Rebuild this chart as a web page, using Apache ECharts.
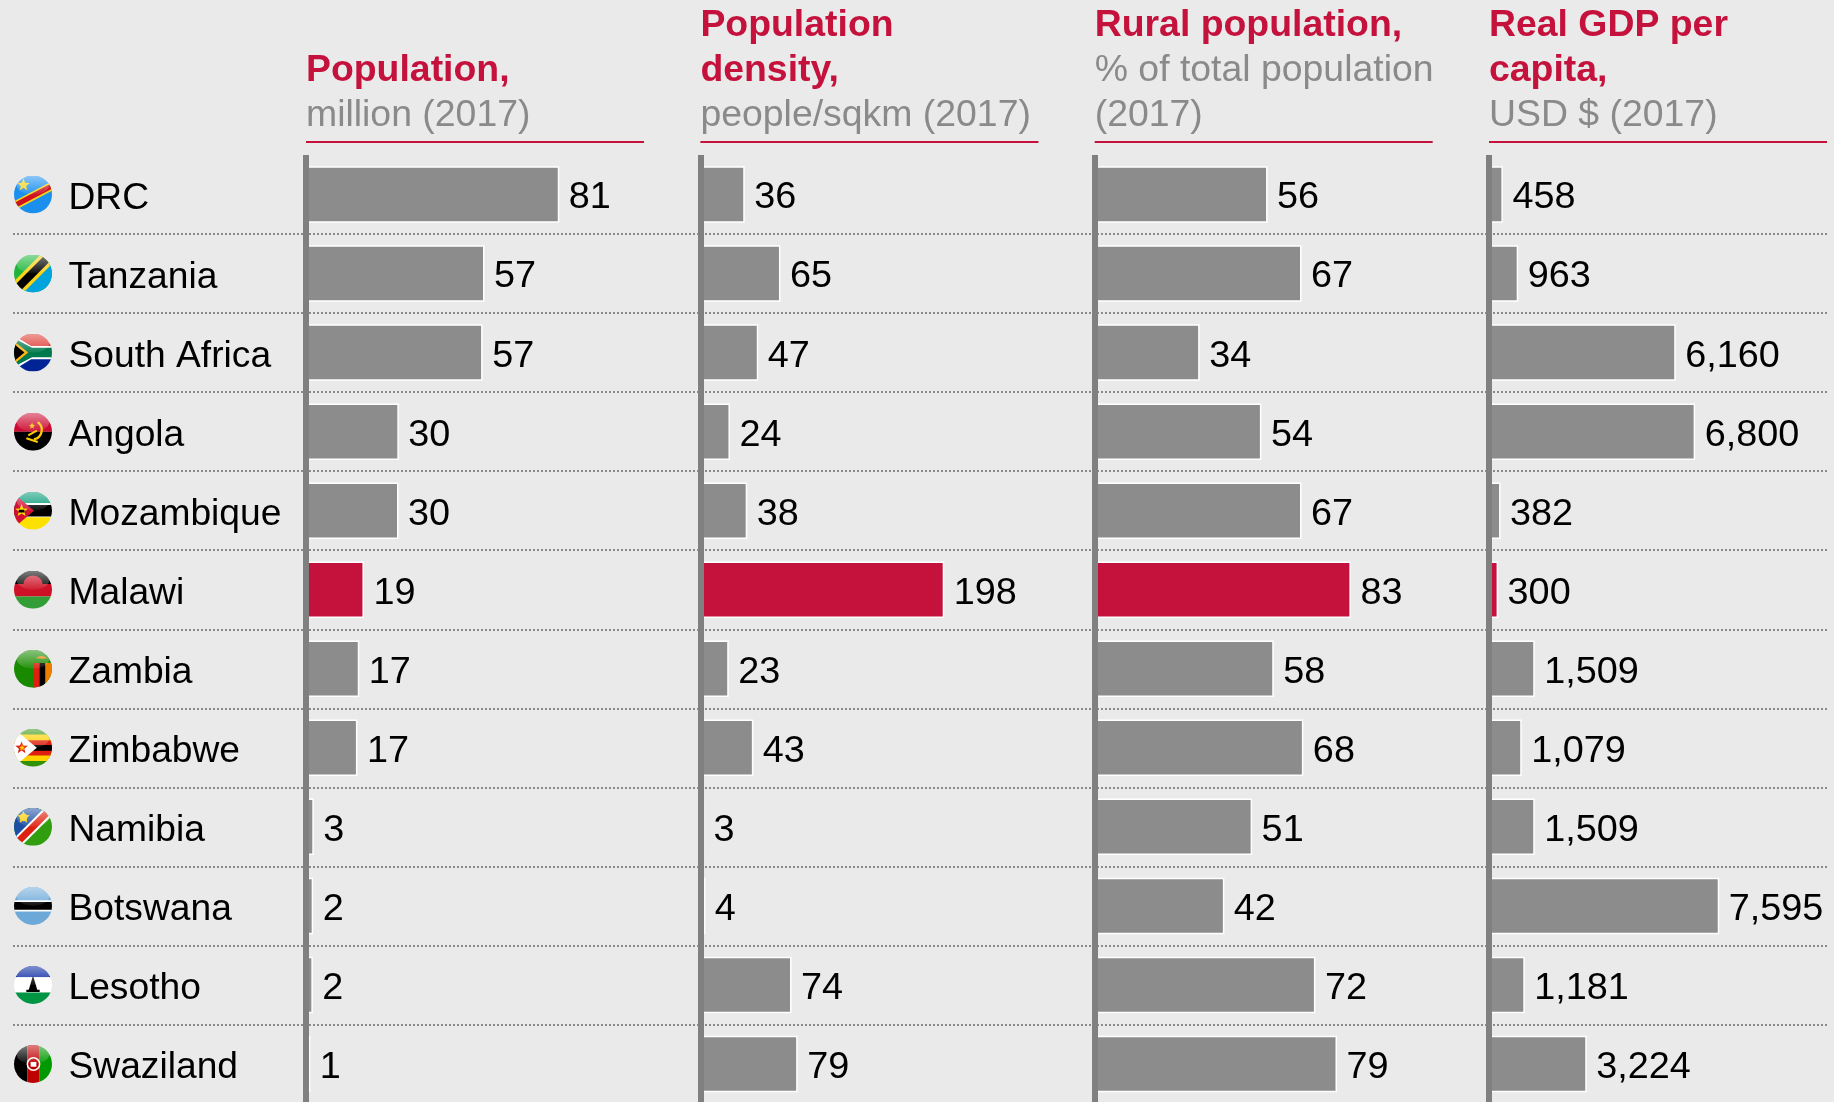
<!DOCTYPE html>
<html>
<head>
<meta charset="utf-8">
<title>Malawi and its neighbours</title>
<script src="https://cdn.jsdelivr.net/npm/echarts@6/dist/echarts.min.js"></script>
<style>
  html, body { margin: 0; padding: 0; background: #eaeaea; overflow: hidden; height: 1102px; }
  /* taller than the window on purpose: the last row runs a little past the bottom edge */
  #chart { width: 1834px; height: 1110px; }
</style>
</head>
<body>
<div id="chart"></div>
<script>
var countries = ['DRC', 'Tanzania', 'South Africa', 'Angola', 'Mozambique', 'Malawi', 'Zambia', 'Zimbabwe', 'Namibia', 'Botswana', 'Lesotho', 'Swaziland'];
var highlight = 'Malawi';

// population and rural keep a decimal where the bar length shows the printed label is rounded
var population = [81.3, 57.3, 56.7, 29.8, 29.7, 18.6, 17.1, 16.5, 2.5, 2.3, 2.2, 1.4];
var density = [36, 65, 47, 24, 38, 198, 23, 43, 3, 4, 74, 79];
var rural = [56, 67, 34, 54, 67, 83, 58, 67.6, 51, 42, 71.5, 78.5];
var gdp = [458, 963, 6160, 6800, 382, 300, 1509, 1079, 1509, 7595, 1181, 3224];

var populationHead = ['Population,'];
var populationSub = ['million (2017)'];
var densityHead = ['Population', 'density,'];
var densitySub = ['people/sqkm (2017)'];
var ruralHead = ['Rural population,'];
var ruralSub = ['% of total population', '(2017)'];
var gdpHead = ['Real GDP per', 'capita,'];
var gdpSub = ['USD $ (2017)'];

var FONT = '"Liberation Sans", Arial, sans-serif';
var CRIMSON = '#c4123c';
var BAR_GRAY = '#8c8c8c';
var AXIS_GRAY = '#808080';

var CHART_HEIGHT = 1110;
var GRID_TOP = 155;
var GRID_HEIGHT = 948.5;

function star(cx, cy, r, fill) {
  var pts = [];
  for (var i = 0; i < 10; i++) {
    var a = -Math.PI / 2 + i * Math.PI / 5;
    var rr = i % 2 ? r * 0.42 : r;
    pts.push((cx + rr * Math.cos(a)).toFixed(2) + ',' + (cy + rr * Math.sin(a)).toFixed(2));
  }
  return '<polygon points="' + pts.join(' ') + '" fill="' + fill + '"/>';
}

function rect(x, y, w, h, fill) {
  return '<rect x="' + x + '" y="' + y + '" width="' + w + '" height="' + h + '" fill="' + fill + '"/>';
}

function poly(points, fill) {
  return '<polygon points="' + points + '" fill="' + fill + '"/>';
}

var flagArt = [
  // DRC
  rect(0, 0, 40, 40, '#1b8fee') + poly('0,27 40,6 40,16 0,37', '#f7d618') + poly('0,29 40,8 40,14 0,35', '#ce1021') + star(10, 10, 7, '#f7d618'),
  // Tanzania
  rect(0, 0, 40, 40, '#1eb53a') + poly('40,4 40,40 0,40', '#00a3dd') + poly('0,28 28,0 40,0 40,10 10,40 0,40', '#fcd116') + poly('0,33 33,0 40,0 40,5 5,40 0,40', '#000'),
  // South Africa
  rect(0, 0, 40, 20, '#de3831') + rect(0, 20, 40, 20, '#002395') + poly('0,2 18,13 40,13 40,27 18,27 0,38', '#fff') + poly('0,5 19,15 40,15 40,25 19,25 0,35', '#007a4d') + poly('0,10 13,20 0,30', '#000') + poly('0,8 15,20 0,32 0,29 11,20 0,11', '#ffb612'),
  // Angola
  rect(0, 0, 40, 20, '#cc092f') + rect(0, 20, 40, 20, '#000') + '<path d="M25 10 a10 10 0 0 1 -4 18" fill="none" stroke="#ffcb00" stroke-width="2.4"/><path d="M13 27 l12 4 M15 24 l9 -5" stroke="#ffcb00" stroke-width="2.2"/>' + star(19, 14, 3.5, '#ffcb00'),
  // Mozambique
  rect(0, 0, 40, 13, '#009a74') + rect(0, 13, 40, 14, '#000') + rect(0, 12, 40, 2, '#fff') + rect(0, 26, 40, 2, '#fff') + rect(0, 27, 40, 13, '#fce100') + poly('0,2 21,20 0,38', '#d21034') + star(8, 20, 7, '#fce100') + rect(5, 19, 6, 3, '#000'),
  // Malawi
  rect(0, 0, 40, 14, '#000') + rect(0, 14, 40, 13, '#ce1126') + rect(0, 27, 40, 13, '#339e35') + '<path d="M10 14 a10 9 0 0 1 20 0 z" fill="#ce1126"/>',
  // Zambia
  rect(0, 0, 40, 40, '#198a00') + rect(20, 14, 7, 26, '#de2010') + rect(27, 14, 6, 26, '#000') + rect(33, 14, 7, 26, '#ef7d00') + '<path d="M23 9 q6 -5 12 0 q-5 1 -12 0 z" fill="#ef7d00"/>',
  // Zimbabwe
  rect(0, 0, 40, 40, '#319208') + rect(0, 6, 40, 28, '#ffd200') + rect(0, 12, 40, 16, '#de2010') + rect(0, 17, 40, 6, '#000') + poly('0,0 24,20 0,40', '#fff') + poly('0,1 22,20 0,39', '#fff') + star(8, 20, 7, '#de2010') + star(8.5, 20, 3.4, '#ffd200'),
  // Namibia
  rect(0, 0, 40, 40, '#319e10') + poly('0,0 40,0 0,40', '#1c4fa3') + poly('0,32 32,0 40,0 40,8 8,40 0,40', '#fff') + poly('0,35 35,0 40,0 40,5 5,40 0,40', '#de2010') + star(10, 10, 7, '#ffce00') + '<circle cx="10" cy="10" r="4" fill="#ffce00"/>',
  // Botswana
  rect(0, 0, 40, 40, '#6da9d8') + rect(0, 14, 40, 12, '#fff') + rect(0, 16, 40, 8, '#000'),
  // Lesotho
  rect(0, 0, 40, 12, '#00209f') + rect(0, 12, 40, 16, '#fff') + rect(0, 28, 40, 12, '#009543') + poly('20,10 25,27 15,27', '#000') + rect(13, 25, 14, 2.5, '#000'),
  // Swaziland (the source draws this flag for it)
  rect(0, 0, 14, 40, '#000') + rect(14, 0, 13, 40, '#be0000') + rect(27, 0, 13, 40, '#009900') + '<circle cx="20.5" cy="20" r="6.5" fill="none" stroke="#fff" stroke-width="1.6"/>' + rect(17.5, 18, 6, 5, '#fff')
];

function flagUri(art) {
  var svg = '<svg xmlns="http://www.w3.org/2000/svg" width="40" height="40" viewBox="0 0 40 40">' +
    '<defs><clipPath id="c"><circle cx="20" cy="20" r="20"/></clipPath>' +
    '<linearGradient id="g" x1="0" y1="0" x2="0" y2="1"><stop offset="0" stop-color="#fff" stop-opacity=".5"/><stop offset="1" stop-color="#fff" stop-opacity=".06"/></linearGradient>' +
    '</defs>' +
    '<g clip-path="url(#c)">' + art +
    '<ellipse cx="20" cy="10" rx="17" ry="10" fill="url(#g)"/></g></svg>';
  return 'data:image/svg+xml;charset=utf-8,' + encodeURIComponent(svg);
}

function fmt(v) {
  return Math.round(v).toLocaleString('en-US');
}

var columns = [
  { values: population, head: populationHead, sub: populationSub, left: 306, max: 108.5 },
  { values: density, head: densityHead, sub: densitySub, left: 700.4, max: 274.5 },
  { values: rural, head: ruralHead, sub: ruralSub, left: 1094.7, max: 109.5 },
  { values: gdp, head: gdpHead, sub: gdpSub, left: 1489, max: 11150 }
];

var labelRich = {
  n: { fontFamily: FONT, fontSize: 37.2, color: '#000', padding: [8, 0, 0, 16.5] }
};
countries.forEach(function(c, i) {
  labelRich['f' + i] = { width: 38, height: 38, backgroundColor: { image: flagUri(flagArt[i]) } };
});

// grid 0 only carries the country names and the dotted row rules across the whole width
var grids = [{ left: 13, width: 1814, top: GRID_TOP, height: GRID_HEIGHT }];
var xAxes = [{ type: 'value', gridIndex: 0, show: false }];
var yAxes = [{
  type: 'category', gridIndex: 0, data: countries, inverse: true,
  axisLine: { show: false }, axisTick: { show: false },
  splitLine: { show: true, interval: 0, showMinLine: false, showMaxLine: false, lineStyle: { color: '#8a8a8a', width: 2, type: [2, 2] } },
  axisLabel: {
    inside: true, interval: 0, margin: 1,
    formatter: function(v) { return '{f' + countries.indexOf(v) + '|}{n|' + v + '}'; },
    rich: labelRich
  }
}];
var titles = [];
var series = [];

columns.forEach(function(col, ci) {
  var gi = ci + 1;
  grids.push({ left: col.left, width: 338, top: GRID_TOP, height: GRID_HEIGHT });
  xAxes.push({
    type: 'value', gridIndex: gi, position: 'top', min: 0, max: col.max, offset: 13,
    axisLine: { show: true, lineStyle: { color: CRIMSON, width: 2, cap: 'butt' } },
    axisTick: { show: false }, axisLabel: { show: false }, splitLine: { show: false }
  });
  yAxes.push({
    type: 'category', gridIndex: gi, data: countries, inverse: true, z: 5,
    axisLine: { show: true, lineStyle: { color: AXIS_GRAY, width: 6, cap: 'butt' } },
    axisTick: { show: false }, axisLabel: { show: false }, splitLine: { show: false }
  });
  var lines = col.head.map(function(s) { return '{b|' + s + '}'; })
    .concat(col.sub.map(function(s) { return '{g|' + s + '}'; }));
  titles.push({
    text: lines.join('\n'), left: col.left, bottom: CHART_HEIGHT - 130, padding: 0,
    textStyle: {
      rich: {
        b: { fontFamily: FONT, fontSize: 37.4, fontWeight: 'bold', color: CRIMSON, lineHeight: 45 },
        g: { fontFamily: FONT, fontSize: 37.4, fontWeight: 'normal', color: '#8a8a8a', lineHeight: 45 }
      }
    }
  });
  series.push({
    type: 'bar', xAxisIndex: gi, yAxisIndex: gi, barWidth: 56.5, z: 2,
    data: col.values.map(function(v, i) {
      return { value: v, itemStyle: { color: countries[i] === highlight ? CRIMSON : BAR_GRAY } };
    }),
    itemStyle: { borderColor: '#fff', borderWidth: 1.5 },
    label: {
      show: true, position: 'right', distance: 9.5, offset: [0, 3.5], color: '#000',
      fontFamily: FONT, fontSize: 37.8,
      formatter: function(p) { return fmt(p.value); }
    }
  });
});

var chart = echarts.init(document.getElementById('chart'), null, { renderer: 'canvas' });
chart.setOption({
  backgroundColor: '#eaeaea',
  animation: false,
  title: titles,
  grid: grids,
  xAxis: xAxes,
  yAxis: yAxes,
  series: series
});
window.addEventListener('resize', function() { chart.resize(); });
</script>
</body>
</html>
